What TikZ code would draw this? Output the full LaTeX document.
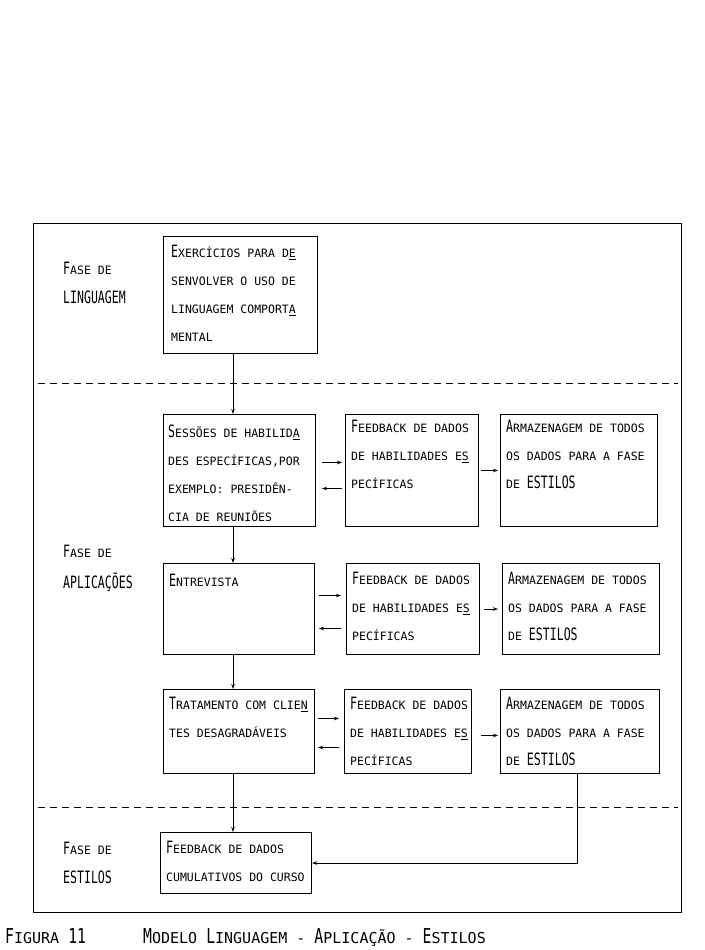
\documentclass[tikz,border=0pt]{standalone}
\usepackage{fontspec}
\usetikzlibrary{arrows.meta,calc}
\newfontfamily\tw{DejaVu Sans Mono}
\newfontfamily\twbig[FakeStretch=0.68]{DejaVu Sans Mono}
\newfontfamily\twcap[FakeStretch=0.72]{DejaVu Sans Mono}
\newcommand\C[1]{{\twbig\fontsize{17}{28}\selectfont #1}}
\newcommand\CC[1]{{\twcap\fontsize{20.5}{24}\selectfont #1}}
\newcommand\hy[1]{\underline{#1}}
\begin{document}
\begin{tikzpicture}[x=1pt,y=-1pt,
  box/.style={draw, line width=1pt, rectangle, inner sep=0pt, anchor=north west},
  txt/.style={anchor=north west, inner sep=0pt, align=left, font=\tw\fontsize{11.5}{28}\selectfont},
  lbl/.style={anchor=north west, inner sep=0pt, align=left, font=\tw\fontsize{11.5}{29}\selectfont},
  capt/.style={anchor=base west, inner sep=0pt, font=\tw\fontsize{15}{18}\selectfont},
  arr/.style={-{Stealth[length=5pt,width=3.5pt]}, line width=0.9pt},
  sep/.style={dash pattern=on 7pt off 5pt, line width=0.9pt}]
\useasboundingbox (0,0) rectangle (704,950);

% outer frame
\node[box, line width=1.1pt, minimum width=648pt, minimum height=689pt] (frame) at (33,223) {};

% phase labels
\node[lbl] (l1) at (63,253.7) {\strut\C{F}ASE DE\\\C{LINGUAGEM}};
\node[lbl, font=\tw\fontsize{11.5}{31}\selectfont] (l2) at (63,535.3) {\strut\C{F}ASE DE\\\C{APLICAÇÕES}};
\node[lbl] (l3) at (63,833.7) {\strut\C{F}ASE DE\\\C{ESTILOS}};

% boxes
\node[box, minimum width=154pt, minimum height=117pt] (b1) at (163,236) {};
\node[box, minimum width=152pt, minimum height=112pt] (b2) at (163,414) {};
\node[box, minimum width=133pt, minimum height=112pt] (b3) at (345,414) {};
\node[box, minimum width=157pt, minimum height=112pt] (b4) at (500,414) {};
\node[box, minimum width=151pt, minimum height=91pt] (b5) at (163,563) {};
\node[box, minimum width=133pt, minimum height=91pt] (b6) at (346,563) {};
\node[box, minimum width=157pt, minimum height=91pt] (b7) at (502,563) {};
\node[box, minimum width=151pt, minimum height=84pt] (b8) at (163,689) {};
\node[box, minimum width=127pt, minimum height=84pt] (b9) at (344,689) {};
\node[box, minimum width=159pt, minimum height=84pt] (b10) at (500,689) {};
\node[box, minimum width=151pt, minimum height=61pt] (b11) at (160,832) {};

% box texts
\node[txt] (t1) at (171,237.6) {\strut\C{E}XERCÍCIOS PARA D\hy{E}\\SENVOLVER O USO DE\\LINGUAGEM COMPORT\hy{A}\\MENTAL};
\node[txt] (t2) at (168,417.6) {\strut\C{S}ESSÕES DE HABILID\hy{A}\\DES ESPECÍFICAS,POR\\EXEMPLO: PRESIDÊN-\\CIA DE REUNIÕES};
\node[txt] (t3) at (351,412.6) {\strut\C{F}EEDBACK DE DADOS\\DE HABILIDADES E\hy{S}\\PECÍFICAS};
\node[txt] (t4) at (506,412.6) {\strut\C{A}RMAZENAGEM DE TODOS\\OS DADOS PARA A FASE\\DE \C{ESTILOS}};
\node[txt] (t5) at (169,566.6) {\strut\C{E}NTREVISTA};
\node[txt] (t6) at (352,564.6) {\strut\C{F}EEDBACK DE DADOS\\DE HABILIDADES E\hy{S}\\PECÍFICAS};
\node[txt] (t7) at (508,564.6) {\strut\C{A}RMAZENAGEM DE TODOS\\OS DADOS PARA A FASE\\DE \C{ESTILOS}};
\node[txt] (t8) at (169,689.6) {\strut\C{T}RATAMENTO COM CLIE\hy{N}\\TES DESAGRADÁVEIS};
\node[txt] (t9) at (350,689.6) {\strut\C{F}EEDBACK DE DADOS\\DE HABILIDADES E\hy{S}\\PECÍFICAS};
\node[txt] (t10) at (506,689.6) {\strut\C{A}RMAZENAGEM DE TODOS\\OS DADOS PARA A FASE\\DE \C{ESTILOS}};
\node[txt] (t11) at (166,833.6) {\strut\C{F}EEDBACK DE DADOS\\CUMULATIVOS DO CURSO};

% dashed phase separators
\draw[sep] (38,383) -- (678,383);
\draw[sep] (38,807) -- (678,807);

% vertical flow
\coordinate (vx) at (233,0);
\coordinate (vy) at (577,0);
\draw[arr] (b1.south -| vx) -- (b2.north -| vx);
\draw[arr] (b2.south -| vx) -- (b5.north -| vx);
\draw[arr] (b5.south -| vx) -- (b8.north -| vx);
\draw[arr] (b8.south -| vx) -- (b11.north -| vx);
\draw[arr] (b10.south -| vy) |- (b11.east);

% row 1 feedback arrows
\draw[arr, shorten <=6pt, shorten >=3pt] ([yshift=8pt]b2.east) -- ([yshift=8pt]b3.west);
\draw[arr, shorten <=3pt, shorten >=6pt] ([yshift=-18pt]b3.west) -- ([yshift=-18pt]b2.east);
\draw[arr, shorten <=2pt, shorten >=2pt] (b3.east) -- (b4.west);
% row 2
\draw[arr, shorten <=4pt, shorten >=5pt] ([yshift=13.5pt]b5.east) -- ([yshift=13.5pt]b6.west);
\draw[arr, shorten <=5pt, shorten >=4pt] ([yshift=-19.5pt]b6.west) -- ([yshift=-19.5pt]b5.east);
\draw[arr, shorten <=4pt, shorten >=4pt] (b6.east) -- (b7.west);
% row 3
\draw[arr, shorten <=3pt, shorten >=5pt] ([yshift=13pt]b8.east) -- ([yshift=13pt]b9.west);
\draw[arr, shorten <=5pt, shorten >=3pt] ([yshift=-16pt]b9.west) -- ([yshift=-16pt]b8.east);
\draw[arr, shorten <=9pt, shorten >=2pt] ([yshift=-4pt]b9.east) -- ([yshift=-4pt]b10.west);

% caption
\node[capt] (c1) at (5,943) {\CC{F}IGURA \CC{11}};
\node[capt] (c2) at (143,943) {\CC{M}ODELO \CC{L}INGUAGEM - \CC{A}PLICAÇÃO - \CC{E}STILOS};
\end{tikzpicture}
\end{document}
